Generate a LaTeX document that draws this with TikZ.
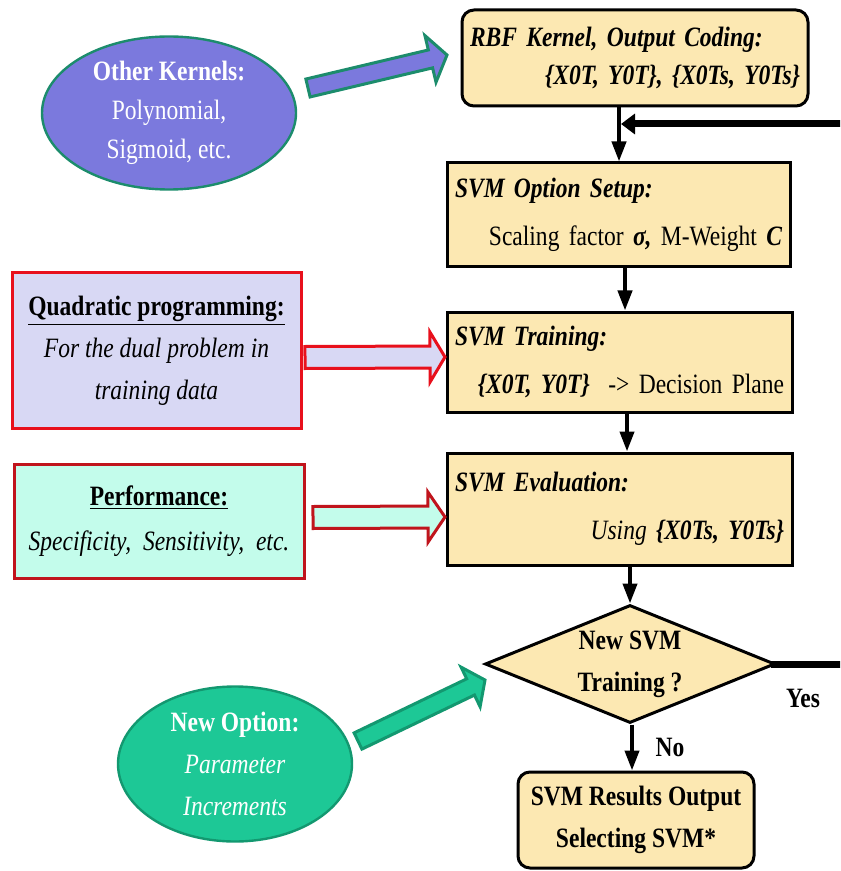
\documentclass[tikz,border=0pt]{standalone}
\usepackage{fontspec}
\setmainfont{Liberation Serif}[FakeStretch=0.84]
\usepackage{xcolor}
\usepackage{tikz}
\usetikzlibrary{positioning, arrows.meta, calc, shapes.geometric}

\definecolor{boxfill}{HTML}{FCE8B2}
\definecolor{kerfill}{HTML}{7B79DD}
\definecolor{kerline}{HTML}{1C8C6C}
\definecolor{qpfill}{HTML}{D8D8F4}
\definecolor{qpline}{HTML}{E8101C}
\definecolor{perffill}{HTML}{C3FCEB}
\definecolor{perfline}{HTML}{C0141C}
\definecolor{optfill}{HTML}{1DC896}
\definecolor{optline}{HTML}{139870}

% fat block arrow: style, tail, tip, half shaft, half head, head length
\newcommand{\fatarrow}[6]{%
  \coordinate (hb) at ($(#3)!#6!(#2)$);
  \draw[#1] ($(#2)!#4!90:(#3)$) -- ($(hb)!#4!90:(#3)$) -- ($(hb)!#5!90:(#3)$) -- (#3)
    -- ($(hb)!#5!-90:(#3)$) -- ($(hb)!#4!-90:(#3)$) -- ($(#2)!#4!-90:(#3)$) -- cycle;
}

\begin{document}
\begin{tikzpicture}[x=0.5pt, y=-0.5pt,
  every node/.style={font=\fontsize{14}{21}\selectfont},
  stage/.style={draw, line width=1.5pt, fill=boxfill, inner sep=4pt, align=left,
    font=\fontsize{14}{20}\selectfont\bfseries\itshape},
  decision/.style={diamond, draw, line width=1.5pt, fill=boxfill, aspect=2.4, inner sep=0pt,
    minimum width=145pt, minimum height=59pt, align=center, font=\fontsize{14}{21}\selectfont\bfseries},
  blob/.style={ellipse, line width=1.2pt, inner sep=0pt, align=center, text=white},
  side/.style={draw, line width=1.5pt, inner sep=0pt, align=center},
  flow/.style={line width=2pt, -{Triangle[length=10pt,width=7pt]}},
  back/.style={line width=3.5pt, -{Triangle[length=7pt,width=10pt]}},
  fat/.style={line width=1.5pt, line join=miter}]
  \useasboundingbox (0,0) rectangle (840,871);
  \clip (0,0) rectangle (840,871);

  % main column
  \node[stage, rounded corners=6pt, minimum width=173pt, minimum height=48pt, text width=165pt] (rbf) at (635,58)
    {RBF Kernel, Output Coding:\\[-1pt] \hfill\{X0T, Y0T\}, \{X0Ts, Y0Ts\}\hspace{3pt}};
  \node[stage, minimum width=171.5pt, minimum height=52pt, text width=163.5pt] (setup) at (618.5,215)
    {SVM Option Setup:\\[4pt] \hfill{\normalfont Scaling factor }σ, {\normalfont M-Weight\ }C\hspace{2pt}};
  \node[stage, minimum width=172.5pt, minimum height=50pt, text width=164.5pt] (train) at (619.5,362)
    {SVM Training:\\[4pt] \hfill\{X0T, Y0T\}\ \ {\normalfont -> Decision Plane}\hspace{2pt}};
  \node[stage, minimum width=172.5pt, minimum height=56pt, text width=164.5pt] (eval) at (619.5,509)
    {SVM Evaluation:\\[4pt] \hfill{\mdseries Using} \{X0Ts, Y0Ts\}\hspace{2pt}};
  \node[decision] (dec) at (630,664) {New SVM\\Training ?};
  \node[stage, rounded corners=6pt, minimum width=118pt, minimum height=48pt, align=center,
    font=\fontsize{14}{21}\selectfont\bfseries] (result) at (636,820)
    {SVM Results Output\\Selecting SVM*};

  % side inputs
  \node[blob, draw=kerline, fill=kerfill, minimum width=127pt, minimum height=76.5pt] (kernels) at (169,113)
    {\textbf{Other Kernels:}\\[-1.5pt]Polynomial,\\[-1.5pt]Sigmoid, etc.};
  \node[side, draw=qpline, fill=qpfill, minimum width=144.5pt, minimum height=77.5pt] (qp) at (156.5,350.5)
    {\textbf{\underline{Quadratic programming:}}\\\textit{For the dual problem in}\\\textit{training data}};
  \node[side, draw=perfline, fill=perffill, minimum width=145pt, minimum height=57pt] (perf) at (159,521)
    {\textbf{\underline{Performance:}}\\[1.5pt]\textit{Specificity,\ \ Sensitivity,\ \ etc.}};
  \node[blob, draw=optline, fill=optfill, minimum width=117pt, minimum height=77.5pt] (newopt) at (235,764)
    {\textbf{New Option:}\\\textit{Parameter}\\\textit{Increments}};

  % column connectors
  \coordinate (x1) at (619,0);
  \coordinate (x2) at (625,0);
  \coordinate (x3) at (627,0);
  \coordinate (x4) at (630,0);
  \coordinate (x5) at (632,0);
  \draw[flow] (rbf.south -| x1) -- (setup.north -| x1);
  \draw[flow] (setup.south -| x2) -- (train.north -| x2);
  \draw[flow] (train.south -| x3) -- (eval.north -| x3);
  \draw[flow] (eval.south -| x4) -- (dec.north -| x4);
  \draw[flow] (dec.south -| x5) -- (result.north -| x5);

  % loop back for another training run
  \coordinate (merge) at (621,124);
  \draw[back] ([xshift=-3pt]dec.east) -- ++(86,0) |- (merge);
  \node[font=\fontsize{14}{21}\selectfont\bfseries] (yes) at (803,698) {Yes};
  \node[font=\fontsize{14}{21}\selectfont\bfseries] (no) at (670,747) {No};

  % block arrows into the column
  \coordinate (kertail) at (308,88);
  \coordinate (kertip) at (447,55);
  \coordinate (qptail) at (305,357.5);
  \coordinate (qptip) at (445,357);
  \coordinate (perftail) at (313,517.5);
  \coordinate (perftip) at (445,517);
  \coordinate (opttail) at (358,741);
  \coordinate (opttip) at (485,680);
  \fatarrow{fat, draw=kerline, fill=kerfill}{kertail}{kertip}{4.6pt}{12pt}{8.5pt}
  \fatarrow{fat, draw=qpline, fill=qpfill}{qptail}{qptip}{5.5pt}{12.5pt}{7.5pt}
  \fatarrow{fat, draw=perfline, fill=perffill}{perftail}{perftip}{5.5pt}{12.5pt}{8.5pt}
  \fatarrow{fat, draw=optline, fill=optfill}{opttail}{opttip}{4.5pt}{11pt}{8pt}
\end{tikzpicture}
\end{document}
